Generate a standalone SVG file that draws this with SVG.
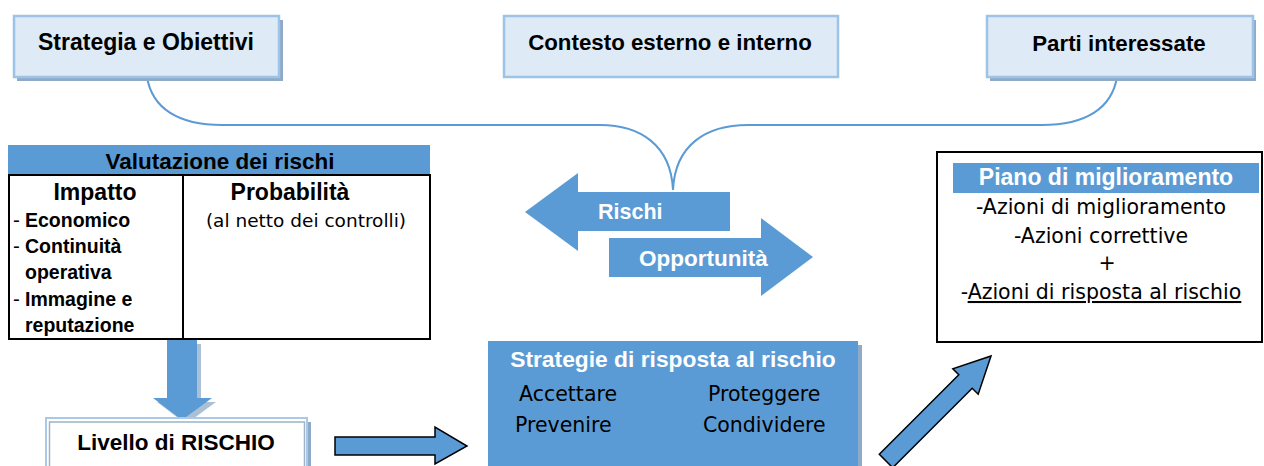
<svg xmlns="http://www.w3.org/2000/svg" width="1264" height="466" viewBox="0 0 1264 466">
<style>
.b{font-family:"Liberation Sans",Arial,sans-serif;font-weight:bold;fill:#000}
.r{font-family:"DejaVu Sans","Liberation Sans",sans-serif;fill:#000}
.w{fill:#fff}
.top{fill:#deeaf6;stroke:#9dc3e6;stroke-width:2.5}
.shd{fill:#8faac7}
.blue{fill:#5b9bd5}
.blk{fill:#5b9bd5;stroke:#000;stroke-width:1.5;stroke-linejoin:miter}
.con{fill:none;stroke:#5b9bd5;stroke-width:2}
</style>
<rect width="1264" height="466" fill="#fff"/>

<g id="connectors">
<path class="con" d="M147,77 C152,108 178,125 222,125 L600,125 C640,125 671,145 673,190"/>
<path class="con" d="M1117,77 C1112,108 1086,125 1042,125 L748,125 C706,125 675,145 673,190"/>
<polygon id="arrow-down" class="shd" points="171,344 201,344 201,402 216,402 186,424 157,402 171,402" opacity="0.75"/>
<polygon class="blue" points="167,340 197,340 197,398 212,398 182,420 153,398 167,398"/>
<polygon id="arrow-right" class="blk" points="335,437 435,437 435,427 467,446 435,464 435,455 335,455"/>
<polygon id="arrow-diag" class="blk" points="991,356 978.2,394.2 972.2,388.2 892.7,467.7 879.3,454.3 958.8,374.8 952.8,368.8"/>
</g>

<g id="strategia">
<rect class="shd" x="17" y="20" width="266" height="61"/>
<rect class="top" x="14" y="16" width="265" height="61"/>
<text class="b" x="146" y="50" font-size="23" text-anchor="middle">Strategia e Obiettivi</text>
</g>

<g id="contesto">
<rect class="top" x="504" y="16" width="334" height="61"/>
<text class="b" x="670" y="50" font-size="22.3" text-anchor="middle">Contesto esterno e interno</text>
</g>

<g id="parti">
<rect class="shd" x="990" y="20" width="266" height="61"/>
<rect class="top" x="987" y="16" width="266" height="61"/>
<text class="b" x="1119" y="51" font-size="22.3" text-anchor="middle">Parti interessate</text>
</g>

<g id="valutazione">
<rect class="blue" x="8" y="145" width="422" height="30"/>
<text class="b" x="220" y="169" font-size="22.5" text-anchor="middle">Valutazione dei rischi</text>
<rect x="9" y="175" width="421" height="164" fill="#fff" stroke="#000" stroke-width="2"/>
<line x1="183" y1="175" x2="183" y2="339" stroke="#000" stroke-width="2"/>
<text class="b" x="95" y="200" font-size="23" text-anchor="middle">Impatto</text>
<text class="b" x="290" y="200" font-size="23" text-anchor="middle">Probabilità</text>
<text class="r" x="306" y="227" font-size="18.5" text-anchor="middle">(al netto dei controlli)</text>
<text class="r" x="13" y="227" font-size="19">-</text>
<text class="b" x="25" y="227" font-size="19.5">Economico</text>
<text class="r" x="13" y="253" font-size="19">-</text>
<text class="b" x="25" y="253" font-size="19.5">Continuità</text>
<text class="b" x="25" y="279" font-size="19.5">operativa</text>
<text class="r" x="13" y="306" font-size="19">-</text>
<text class="b" x="25" y="306" font-size="19.5">Immagine e</text>
<text class="b" x="25" y="332" font-size="19.5">reputazione</text>
</g>

<g id="rischi">
<polygon class="blue" points="525,212 578,173 578,192 730,192 730,231 578,231 578,251"/>
<text class="b w" x="598" y="219" font-size="21.5">Rischi</text>
</g>

<g id="opportunita">
<polygon class="blue" points="609,238 761,238 761,218 813,257 761,296 761,277 609,277"/>
<text class="b w" x="639" y="266" font-size="22.5">Opportunità</text>
</g>

<g id="piano">
<rect x="937" y="152" width="325" height="190" fill="#fff" stroke="#000" stroke-width="2"/>
<rect class="blue" x="953" y="163" width="306" height="30"/>
<text class="b w" x="1106" y="185" font-size="23" text-anchor="middle">Piano di miglioramento</text>
<text class="r" x="1101" y="214" font-size="20.5" text-anchor="middle">-Azioni di miglioramento</text>
<text class="r" x="1101" y="243" font-size="20.5" text-anchor="middle">-Azioni correttive</text>
<text class="r" x="1107" y="270" font-size="20.5" text-anchor="middle">+</text>
<text class="r" x="1101" y="299" font-size="20.5" text-anchor="middle">-<tspan text-decoration="underline">Azioni di risposta al rischio</tspan></text>
</g>

<g id="livello">
<rect class="shd" x="50" y="422" width="261" height="60"/>
<rect x="46" y="418" width="261" height="60" fill="#fff" stroke="#a9c9e9" stroke-width="2"/>
<rect x="49.5" y="422" width="255" height="60" fill="none" stroke="#9fb2c8" stroke-width="1.5"/>
<text class="b" x="176" y="450" font-size="22.5" text-anchor="middle">Livello di RISCHIO</text>
</g>

<g id="strategie">
<rect class="shd" x="492" y="345" width="370" height="130"/>
<rect class="blue" x="488" y="341" width="370" height="130"/>
<text class="b w" x="673" y="367" font-size="22.8" text-anchor="middle">Strategie di risposta al rischio</text>
<text class="r" x="519" y="401" font-size="20.5">Accettare</text>
<text class="r" x="708" y="401" font-size="20.5">Proteggere</text>
<text class="r" x="515" y="432" font-size="20.5">Prevenire</text>
<text class="r" x="703" y="432" font-size="20.5">Condividere</text>
</g>
</svg>
